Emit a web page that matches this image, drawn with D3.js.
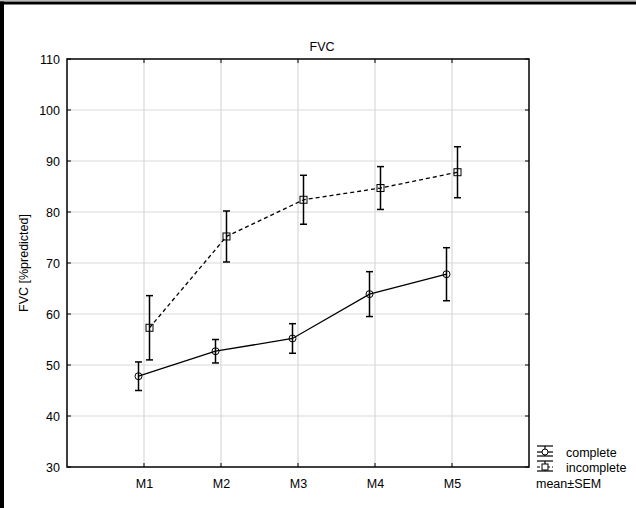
<!DOCTYPE html>
<html><head><meta charset="utf-8">
<script src="https://cdn.jsdelivr.net/npm/d3@7"></script>
<style>body{margin:0;background:#fff}svg{display:block;font-family:"Liberation Sans",Arial,sans-serif}</style>
</head><body><svg id="c" width="636" height="508"></svg>
<script>
const categories = ["M1","M2","M3","M4","M5"];
const completeMean = [47.8, 52.7, 55.2, 63.9, 67.8];
const completeSEM  = [2.8, 2.3, 2.9, 4.4, 5.2];
const incompleteMean = [57.3, 75.2, 82.4, 84.7, 87.8];
const incompleteSEM  = [6.3, 5.0, 4.8, 4.2, 5.0];
const yTicks = [30,40,50,60,70,80,90,100,110];

const svg = d3.select("#c");
const L=67, R=529, T=59, B=467;
const FS = 12.5;
const x = d3.scalePoint().domain(["", ...categories, " "]).range([L,R]);
const y = d3.scaleLinear().domain([30,110]).range([B,T]);

// outer frame (top & left)
svg.append("line").attr("x1",0).attr("x2",636).attr("y1",0.5).attr("y2",0.5).attr("stroke","#bbb").attr("stroke-width",1);
svg.append("line").attr("x1",0).attr("x2",636).attr("y1",3).attr("y2",3).attr("stroke","#000").attr("stroke-width",3);
svg.append("line").attr("x1",2).attr("x2",2).attr("y1",1.5).attr("y2",508).attr("stroke","#000").attr("stroke-width",4);

// grid
const g = svg.append("g");
g.selectAll(".hg").data(yTicks.slice(1,-1)).join("line")
 .attr("x1",L).attr("x2",R).attr("y1",d=>y(d)).attr("y2",d=>y(d)).attr("stroke","#d9d9d9").attr("stroke-width",1.2);
g.selectAll(".vg").data(categories).join("line")
 .attr("x1",d=>x(d)).attr("x2",d=>x(d)).attr("y1",T).attr("y2",B).attr("stroke","#d9d9d9").attr("stroke-width",1.2);

// axes
const yAxis = d3.axisLeft(y).tickValues(yTicks).tickSize(0).tickPadding(7);
const ya = svg.append("g").attr("transform",`translate(${L},0)`).call(yAxis);
ya.select(".domain").remove();
ya.selectAll("text").attr("font-size",FS).attr("fill","#000").attr("font-family","Liberation Sans, Arial, sans-serif");
const xAxis = d3.axisBottom(x).tickValues(categories).tickSize(0).tickPadding(12);
const xa = svg.append("g").attr("transform",`translate(0,${B})`).call(xAxis);
xa.select(".domain").remove();
xa.selectAll("text").attr("font-size",FS).attr("fill","#000").attr("font-family","Liberation Sans, Arial, sans-serif");
// inward ticks
svg.append("g").selectAll("line").data(categories).join("line").attr("x1",d=>x(d)).attr("x2",d=>x(d)).attr("y1",B).attr("y2",B-4).attr("stroke","#000");
svg.append("g").selectAll("line").data(categories).join("line").attr("x1",d=>x(d)).attr("x2",d=>x(d)).attr("y1",T).attr("y2",T+4).attr("stroke","#000");
svg.append("g").selectAll("line").data(yTicks).join("line").attr("x1",L).attr("x2",L+4).attr("y1",d=>y(d)).attr("y2",d=>y(d)).attr("stroke","#000");
svg.append("g").selectAll("line").data(yTicks).join("line").attr("x1",R).attr("x2",R-4).attr("y1",d=>y(d)).attr("y2",d=>y(d)).attr("stroke","#000");
svg.append("rect").attr("x",L).attr("y",T).attr("width",R-L).attr("height",B-T).attr("fill","none").attr("stroke","#000").attr("stroke-width",1.5);

// title & y label
svg.append("text").attr("x",322).attr("y",51).attr("text-anchor","middle").attr("font-size",FS).text("FVC");
svg.append("text").attr("transform","translate(28,263) rotate(-90)").attr("text-anchor","middle").attr("font-size",FS).text("FVC [%predicted]");

function series(means, sems, off, dashed, marker){
  const pts = categories.map((c,i)=>({x:x(c)+off, m:means[i], s:sems[i]}));
  svg.append("path").datum(pts).attr("d",d3.line().x(d=>d.x).y(d=>y(d.m)))
    .attr("fill","none").attr("stroke","#000").attr("stroke-width",1.3).attr("stroke-dasharray",dashed?"4,3":null);
  const eg = svg.append("g").attr("stroke","#000").attr("stroke-width",1.5);
  pts.forEach(p=>{
    eg.append("line").attr("x1",p.x).attr("x2",p.x).attr("y1",y(p.m-p.s)).attr("y2",y(p.m+p.s));
    eg.append("line").attr("x1",p.x-3.5).attr("x2",p.x+3.5).attr("y1",y(p.m-p.s)).attr("y2",y(p.m-p.s));
    eg.append("line").attr("x1",p.x-3.5).attr("x2",p.x+3.5).attr("y1",y(p.m+p.s)).attr("y2",y(p.m+p.s));
    if(marker==="circle") eg.append("circle").attr("cx",p.x).attr("cy",y(p.m)).attr("r",3.5).attr("fill","none").attr("stroke-width",1);
    else eg.append("rect").attr("x",p.x-3.5).attr("y",y(p.m)-3.5).attr("width",7).attr("height",7).attr("fill","none").attr("stroke-width",1);
  });
}
series(completeMean, completeSEM, -5.5, false, "circle");
series(incompleteMean, incompleteSEM, 5.5, true, "square");

// legend
const lg = svg.append("g").attr("stroke","#000").attr("stroke-width",1.2);
function legIcon(cy, dashed, marker){
  lg.append("line").attr("x1",537).attr("x2",553).attr("y1",cy-6).attr("y2",cy-6);
  lg.append("line").attr("x1",537).attr("x2",553).attr("y1",cy+4).attr("y2",cy+4);
  lg.append("line").attr("x1",537).attr("x2",553).attr("y1",cy).attr("y2",cy).attr("stroke-dasharray",dashed?"3,2":null);
  lg.append("line").attr("x1",545).attr("x2",545).attr("y1",cy-6).attr("y2",cy+4);
  if(marker==="circle") lg.append("circle").attr("cx",545).attr("cy",cy).attr("r",3).attr("fill","#fff").attr("stroke-width",1);
  else lg.append("rect").attr("x",542).attr("y",cy-3).attr("width",6).attr("height",6).attr("fill","#fff").attr("stroke-width",1);
}
legIcon(452, false, "circle");
legIcon(467, true, "square");
svg.append("text").attr("x",566).attr("y",457).attr("font-size",FS).text("complete");
svg.append("text").attr("x",566).attr("y",472).attr("font-size",FS).text("incomplete");
svg.append("text").attr("x",536).attr("y",488).attr("font-size",FS).text("mean±SEM");
</script></body></html>
